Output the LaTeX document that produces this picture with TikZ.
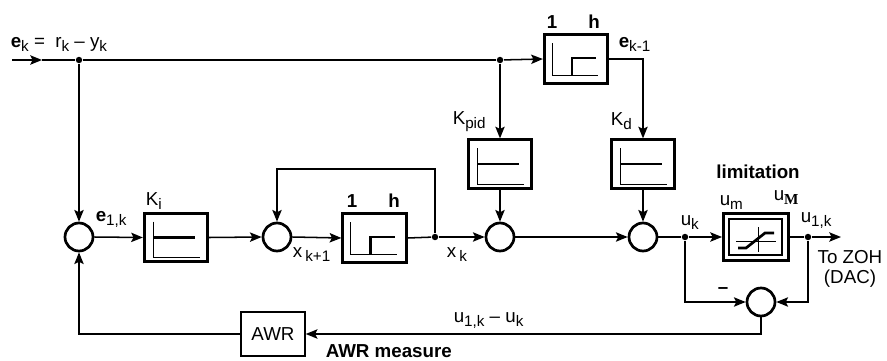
\documentclass[tikz,border=0pt]{standalone}
\usepackage{fontspec}
\setmainfont{Liberation Sans}
\newfontfamily\serifM{Liberation Serif}
\newcommand*{\sub}[1]{\raisebox{-0.45ex}{\fontsize{13}{13}\selectfont #1}}
\usepackage{tikz}
\usetikzlibrary{arrows.meta}
\tikzstyle{base}=[x=0.03cm, y=-0.03cm, line width=1.3pt, >={Stealth[length=10pt,width=8pt,inset=2pt]}]
\tikzstyle{sum}=[draw, circle, line width=2.3pt, minimum size=0.84cm, inner sep=0pt]
\tikzstyle{blk}=[draw, rectangle, line width=2.5pt, inner sep=0pt, minimum width=1.9cm, minimum height=1.45cm]
\tikzstyle{awrbox}=[draw, rectangle, line width=1.8pt, inner sep=0pt, minimum width=1.9cm, minimum height=1.33cm]
\tikzstyle{dot}=[circle, fill, minimum size=5.5pt, inner sep=0pt]
\tikzstyle{thinline}=[line width=0.7pt]
\tikzstyle{thickline}=[line width=2.3pt]
\newcommand*{\gainsign}[1]{%
    \begin{scope}[shift={(#1)}]
        \draw [thinline] (-23,-16) -- (-23,20) -- (24,20);
        \draw [thickline] (-23,0) -- (19,0);
    \end{scope}}
\newcommand*{\delaysign}[1]{%
    \begin{scope}[shift={(#1)}]
        \draw [thinline] (-24,-16) -- (-24,16) -- (22,16);
        \draw [thickline] (-4,16) -- (-4,-1) -- (20,-1);
    \end{scope}}
\newcommand*{\limitsign}[1]{%
    \begin{scope}[shift={(#1)}]
        \draw [line width=1.6pt] (-27,-18) rectangle (26,18);
        \draw [thinline] (-20,4) -- (20,4);
        \draw [thinline] (2,-10) -- (2,15);
        \draw [thickline] (-18,11) -- (-10,11) -- (9,-4) -- (18,-4);
    \end{scope}}

\begin{document}
\begin{tikzpicture}[base]
    \fontsize{16}{18}\selectfont
    \path [use as bounding box] (0,0) rectangle (887,360);
    % input line
    \coordinate (in) at (12,60);
    \coordinate (ar) at (42,60);
    \node [dot] (jin) at (79,60) {};
    \node [dot] (jp) at (500,60) {};
    \node [blk] (dl1) at (576,59) {};
    \delaysign{dl1.center}
    % gains
    \node [blk] (kp) at (500,164) {};
    \gainsign{kp.center}
    \node [blk] (kd) at (643,164) {};
    \gainsign{kd.center}
    % main row
    \node [sum] (sA) at (79,237) {};
    \node [blk] (ki) at (176,237.5) {};
    \gainsign{ki.center}
    \node [sum] (sB) at (277,237) {};
    \node [blk] (dl2) at (374.5,238) {};
    \delaysign{dl2.center}
    \node [dot] (jx) at (435,237) {};
    \coordinate (lp) at (277,169);
    \node [sum] (sC) at (500,237) {};
    \node [sum] (sD) at (643,237) {};
    \node [dot] (ju) at (685,237) {};
    \node [blk, minimum width=1.95cm, minimum height=1.42cm] (lim) at (756,237) {};
    \limitsign{lim.center}
    \node [dot] (jv) at (808,237) {};
    \coordinate (out) at (841,237);
    % anti windup
    \node [sum] (sE) at (761,302) {};
    \node [awrbox] (awr) at (273,334) {AWR};
    % connectors
    \draw [->] (in) -- (ar);
    \draw (ar) -- (jin) -- (jp);
    \draw [->] (jp) -- (dl1.west);
    \draw [->] (dl1.east) -| (kd.north);
    \draw [->] (jin) -- (sA.north);
    \draw [->] (jp) -- (kp.north);
    \draw [->] (kp.south) -- (sC.north);
    \draw [->] (kd.south) -- (sD.north);
    \draw [->] (sA.east) -- (ki.west);
    \draw [->] (ki.east) -- (sB.west);
    \draw [->] (sB.east) -- (dl2.west);
    \draw (dl2.east) -- (jx);
    \draw [->] (jx) -- (sC.west);
    \draw [->] (jx) |- (lp) -- (sB.north);
    \draw [->] (sC.east) -- (sD.west);
    \draw (sD.east) -- (ju);
    \draw [->] (ju) -- (lim.west);
    \draw (lim.east) -- (jv);
    \draw [->] (jv) -- (out);
    \draw [->] (ju) |- (sE.west);
    \draw [->] (jv) |- (sE.east);
    \draw [->] (sE.south) |- (awr.east);
    \draw [->] (awr.west) -| (sA.south);
    % labels
    \node [anchor=base west, inner sep=0pt] (lek) at (10,47) {\textbf{e}\sub{k} =~ r\sub{k} -- y\sub{k}};
    \node [anchor=base, inner sep=0pt] (lo1) at (552,28) {\textbf{1}};
    \node [anchor=base, inner sep=0pt] (lh1) at (594,28) {\textbf{h}};
    \node [anchor=base west, inner sep=0pt] (lek1) at (618,47) {\textbf{e}\sub{k-1}};
    \node [anchor=base west, inner sep=0pt] (lkp) at (452,124) {K\sub{pid}};
    \node [anchor=base west, inner sep=0pt] (lkd) at (610,125) {K\sub{d}};
    \node [anchor=base west, inner sep=0pt] (lki) at (145,205) {K\sub{i}};
    \node [anchor=base west, inner sep=0pt] (le1) at (95,221) {\textbf{e}\sub{1,k}};
    \node [anchor=base, inner sep=0pt] (lo2) at (352,207) {\textbf{1}};
    \node [anchor=base, inner sep=0pt] (lh2) at (394,207) {\textbf{h}};
    \node [anchor=base west, inner sep=0pt] (lx1) at (292,257) {x\,\sub{k+1}};
    \node [anchor=base west, inner sep=0pt] (lx) at (446,257) {x\,\sub{k}};
    \node [anchor=base west, inner sep=0pt] (luk) at (680,225) {u\sub{k}};
    \node [anchor=base, inner sep=0pt] (llim) at (758,178) {\textbf{limitation}};
    \node [anchor=base west, inner sep=0pt] (lum) at (719,205) {u\sub{m}};
    \node [anchor=base west, inner sep=0pt] (luM) at (773,200) {u\sub{\serifM\bfseries M}};
    \node [anchor=base west, inner sep=0pt] (lu1) at (800,222) {u\sub{1,k}};
    \node [anchor=north, align=center, inner sep=0pt, font=\fontsize{16}{17}\selectfont] (lzoh) at (850,250) {To ZOH\\(DAC)};
    \node [inner sep=0pt] (lmin) at (723,291) {\textbf{--}};
    \node [anchor=base west, inner sep=0pt] (ldiff) at (453,322) {u\sub{1,k} -- u\sub{k}};
    \node [anchor=base west, inner sep=0pt] (lawr) at (325,357) {\textbf{AWR measure}};
\end{tikzpicture}
\end{document}
